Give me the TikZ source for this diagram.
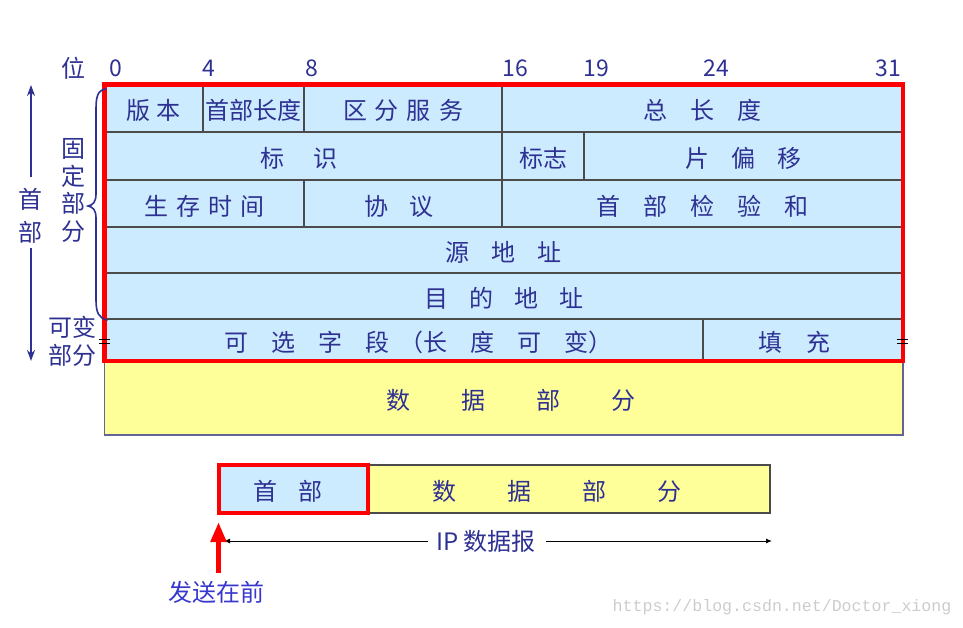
\documentclass[tikz,border=0pt]{standalone}
\usepackage{fontspec}
\setmainfont{Noto Sans CJK SC}
\newfontfamily\wmfont{Liberation Mono}
\usetikzlibrary{arrows.meta}
\definecolor{navy}{RGB}{46,49,146}
\definecolor{cellblue}{RGB}{204,235,255}
\definecolor{dyellow}{RGB}{255,255,153}
\definecolor{gridgray}{RGB}{75,75,75}
\definecolor{dataedge}{RGB}{100,100,150}
\definecolor{sendblue}{RGB}{55,55,205}
\newcommand\g[1]{\hspace*{#1pt}}
\begin{document}
\begin{tikzpicture}[x=1pt,y=-1pt,
  cell/.style={draw=gridgray, line width=1.3pt, fill=cellblue, anchor=north west,
    inner sep=0pt, outer sep=0pt, text=navy, font=\fontsize{24}{24}\selectfont,
    text height=23pt, text depth=0pt},
  datacell/.style={cell, fill=dyellow, draw=dataedge},
  lbl/.style={text=navy, inner sep=0pt, font=\fontsize{24}{24}\selectfont},
  bitlbl/.style={text=navy, inner sep=0pt, font=\fontsize{23}{23}\selectfont},
  navyarrow/.style={draw=navy, line width=2pt, -{Stealth[length=11pt,width=8pt]}},
  redframe/.style={draw=red, line width=4.5pt},
]
\useasboundingbox (0,0) rectangle (963,627);

% bit positions
\node[lbl] (wei) at (73,68) {位};
\node[bitlbl] (b0) at (116,68) {0};
\node[bitlbl] (b4) at (209,68) {4};
\node[bitlbl] (b8) at (312,68) {8};
\node[bitlbl] (b16) at (515,68) {16};
\node[bitlbl] (b19) at (596,68) {19};
\node[bitlbl] (b24) at (716,68) {24};
\node[bitlbl] (b31) at (888,68) {31};

% data row (below header)
\node[datacell, minimum width=798.5pt, minimum height=74pt] (data) at (104.5,361) {\g{14}数\g{51}据\g{51}部\g{51}分};

% header cells
\node[cell, minimum width=98.5pt, minimum height=47.5pt] (ver) at (104.5,84.5) {版\g{6}本};
\node[cell, minimum width=101pt, minimum height=47.5pt] (hlen) at (203,84.5) {首部长度};
\node[cell, minimum width=198pt, minimum height=47.5pt] (tos) at (304,84.5) {区\g{8}分\g{8}服\g{8}务};
\node[cell, minimum width=401pt, minimum height=47.5pt] (tlen) at (502,84.5) {总\g{23}长\g{23}度};

\node[cell, minimum width=397.5pt, minimum height=48pt] (ident) at (104.5,132) {标\g{29}识\g{8}};
\node[cell, minimum width=82pt, minimum height=48pt] (flag) at (502,132) {标志};
\node[cell, minimum width=319pt, minimum height=48pt] (frag) at (584,132) {片\g{22}偏\g{22}移};

\node[cell, minimum width=199.5pt, minimum height=47pt] (ttl) at (104.5,180) {生\g{8}存\g{8}时\g{8}间};
\node[cell, minimum width=198pt, minimum height=47pt] (proto) at (304,180) {协\g{21}议\g{8}};
\node[cell, minimum width=401pt, minimum height=47pt] (csum) at (502,180) {首\g{23}部\g{23}检\g{23}验\g{23}和};

\node[cell, minimum width=798.5pt, minimum height=46pt] (src) at (104.5,227) {源\g{22}地\g{22}址};
\node[cell, minimum width=798.5pt, minimum height=46pt] (dst) at (104.5,273) {目\g{21}的\g{21}地\g{21}址};

\node[cell, minimum width=598.5pt, minimum height=42pt] (opt) at (104.5,319) {\g{30}可\g{23}选\g{23}字\g{23}段\g{10}（长\g{23}度\g{23}可\g{23}变）};
\node[cell, minimum width=200pt, minimum height=42pt] (pad) at (703,319) {填\g{24}充\g{18}};

% red frame around the header
\draw[redframe] (ver.north west) rectangle (pad.south east);

% small break marks
\draw[black, line width=1pt] (99,339.5) -- (110,339.5) (99,343.5) -- (110,343.5);
\draw[black, line width=1pt] (897,339.5) -- (908,339.5) (897,343.5) -- (908,343.5);

% left side: header arrows
\node[lbl] (hdA) at (30,199) {首};
\node[lbl] (hdB) at (30,232) {部};
\coordinate (upBase) at (31,177);
\coordinate (upTip) at (31,85);
\coordinate (dnBase) at (31,248);
\coordinate (dnTip) at (31,361);
\draw[navyarrow] (upBase) -- (upTip);
\draw[navyarrow] (dnBase) -- (dnTip);

% fixed part label and brace
\node[lbl, align=center, font=\fontsize{24}{27.7}\selectfont] (fixed) at (73,190.5) {固\\定\\部\\分};
\draw[navy, line width=1.6pt, line cap=round]
  (106,89) .. controls (97,90) and (96,98) .. (96,110) -- (96,194)
  .. controls (96,202) and (93,205) .. (88,206)
  .. controls (93,207) and (96,210) .. (96,218) -- (96,300)
  .. controls (96,313) and (99,318) .. (107,320);
\node[lbl, align=center, font=\fontsize{24}{28}\selectfont] (var) at (72,341) {可变\\部分};

% lower datagram
\node[datacell, draw=gridgray, minimum width=402pt, minimum height=48pt] (data2) at (368,465) {数\g{51}据\g{51}部\g{51}分\g{24}};
\node[cell, draw=red, line width=3.5pt, minimum width=149pt, minimum height=48pt] (hd2) at (219,465) {首\g{21}部\g{12}};

\node[lbl] (ip) at (486,541) {IP 数据报};
\coordinate (ipL) at (224,541);
\coordinate (ipR) at (772,541);
\draw[black, line width=1pt, -{Latex[length=6pt,width=5pt]}] ([xshift=-8pt]ip.west) -- (ipL);
\draw[black, line width=1pt, -{Latex[length=6pt,width=5pt]}] ([xshift=10pt]ip.east) -- (ipR);

\node[inner sep=0pt, text=sendblue, font=\fontsize{24}{24}\selectfont] (send) at (216,592) {发送在前};
\coordinate (sendBase) at (218.5,573);
\coordinate (sendTip) at (218.5,522);
\draw[red, line width=5pt, -{Triangle[length=20pt,width=15pt]}] (sendBase) -- (sendTip);

% watermark
\node[inner sep=0pt, text=black!20, font=\wmfont\fontsize{16.6}{17}\selectfont] (wm) at (782,607) {https://blog.csdn.net/Doctor\_xiong};
\end{tikzpicture}
\end{document}
